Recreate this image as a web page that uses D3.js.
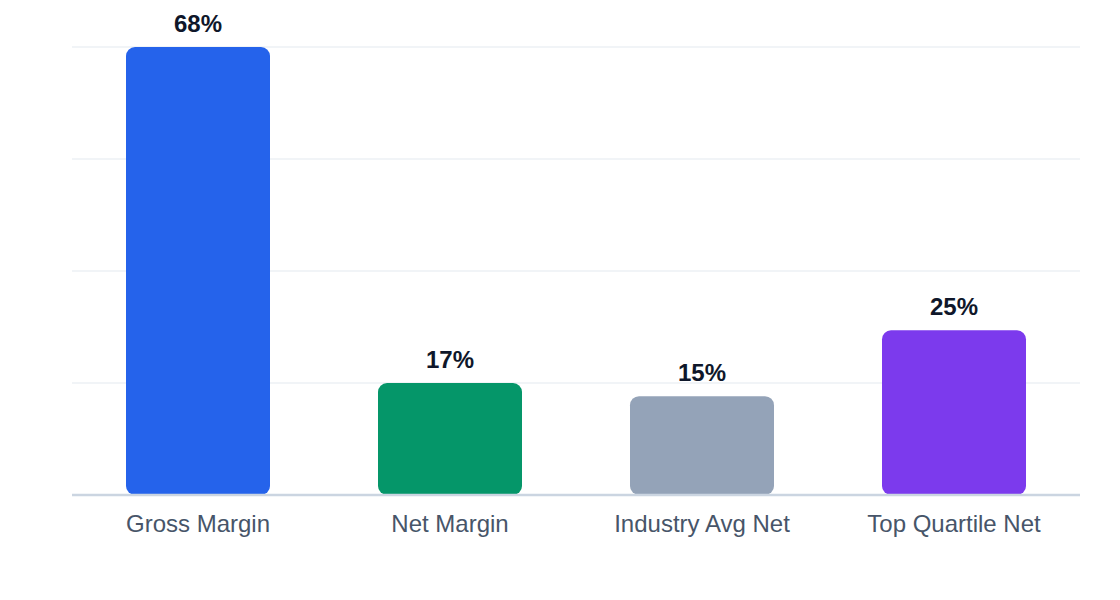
<!DOCTYPE html>
<html><head><meta charset="utf-8">
<script src="https://cdn.jsdelivr.net/npm/d3@7"></script>
<style>body{margin:0;background:#fff;font-family:"Liberation Sans",Arial,Helvetica,sans-serif;}</style>
</head><body>
<svg id="c" width="1120" height="600"></svg>
<script>
const categories = ["Gross Margin", "Net Margin", "Industry Avg Net", "Top Quartile Net"];
const values = [68, 17, 15, 25];
const colors = ["#2563eb", "#059669", "#94a3b8", "#7c3aed"];
const yTicks = [0, 17, 34, 51, 68];

const svg = d3.select("#c");
const m = {left: 72, right: 40, top: 47, bottom: 105};
const W = 1120, H = 600;
const x = d3.scaleBand().domain(categories).range([m.left, W - m.right]).paddingInner(0.4286).paddingOuter(0.2143);
const y = d3.scaleLinear().domain([0, 68]).range([H - m.bottom, m.top]);

svg.append("g").selectAll("line").data(yTicks.slice(1)).join("line")
  .attr("x1", m.left).attr("x2", W - m.right)
  .attr("y1", d => y(d)).attr("y2", d => y(d))
  .attr("stroke", "#edf0f4").attr("stroke-width", 1.5);

svg.append("g").selectAll("rect").data(values).join("rect")
  .attr("x", (d, i) => x(categories[i]))
  .attr("y", d => y(d))
  .attr("width", x.bandwidth())
  .attr("height", d => y(0) - y(d))
  .attr("rx", 9).attr("ry", 9)
  .attr("fill", (d, i) => colors[i]);

svg.append("line").attr("x1", m.left).attr("x2", W - m.right)
  .attr("y1", y(0)).attr("y2", y(0)).attr("stroke", "#cbd5e1").attr("stroke-width", 2.5);

svg.append("g").selectAll("text").data(values).join("text")
  .attr("x", (d, i) => x(categories[i]) + x.bandwidth() / 2)
  .attr("y", d => y(d) - 15)
  .attr("text-anchor", "middle")
  .attr("font-size", 24).attr("font-weight", "bold").attr("fill", "#0f172a")
  .text(d => d + "%");

svg.append("g").selectAll("text").data(categories).join("text")
  .attr("x", d => x(d) + x.bandwidth() / 2)
  .attr("y", y(0) + 37)
  .attr("text-anchor", "middle")
  .attr("font-size", 24).attr("fill", "#475569")
  .text(d => d);
</script>
</body></html>
